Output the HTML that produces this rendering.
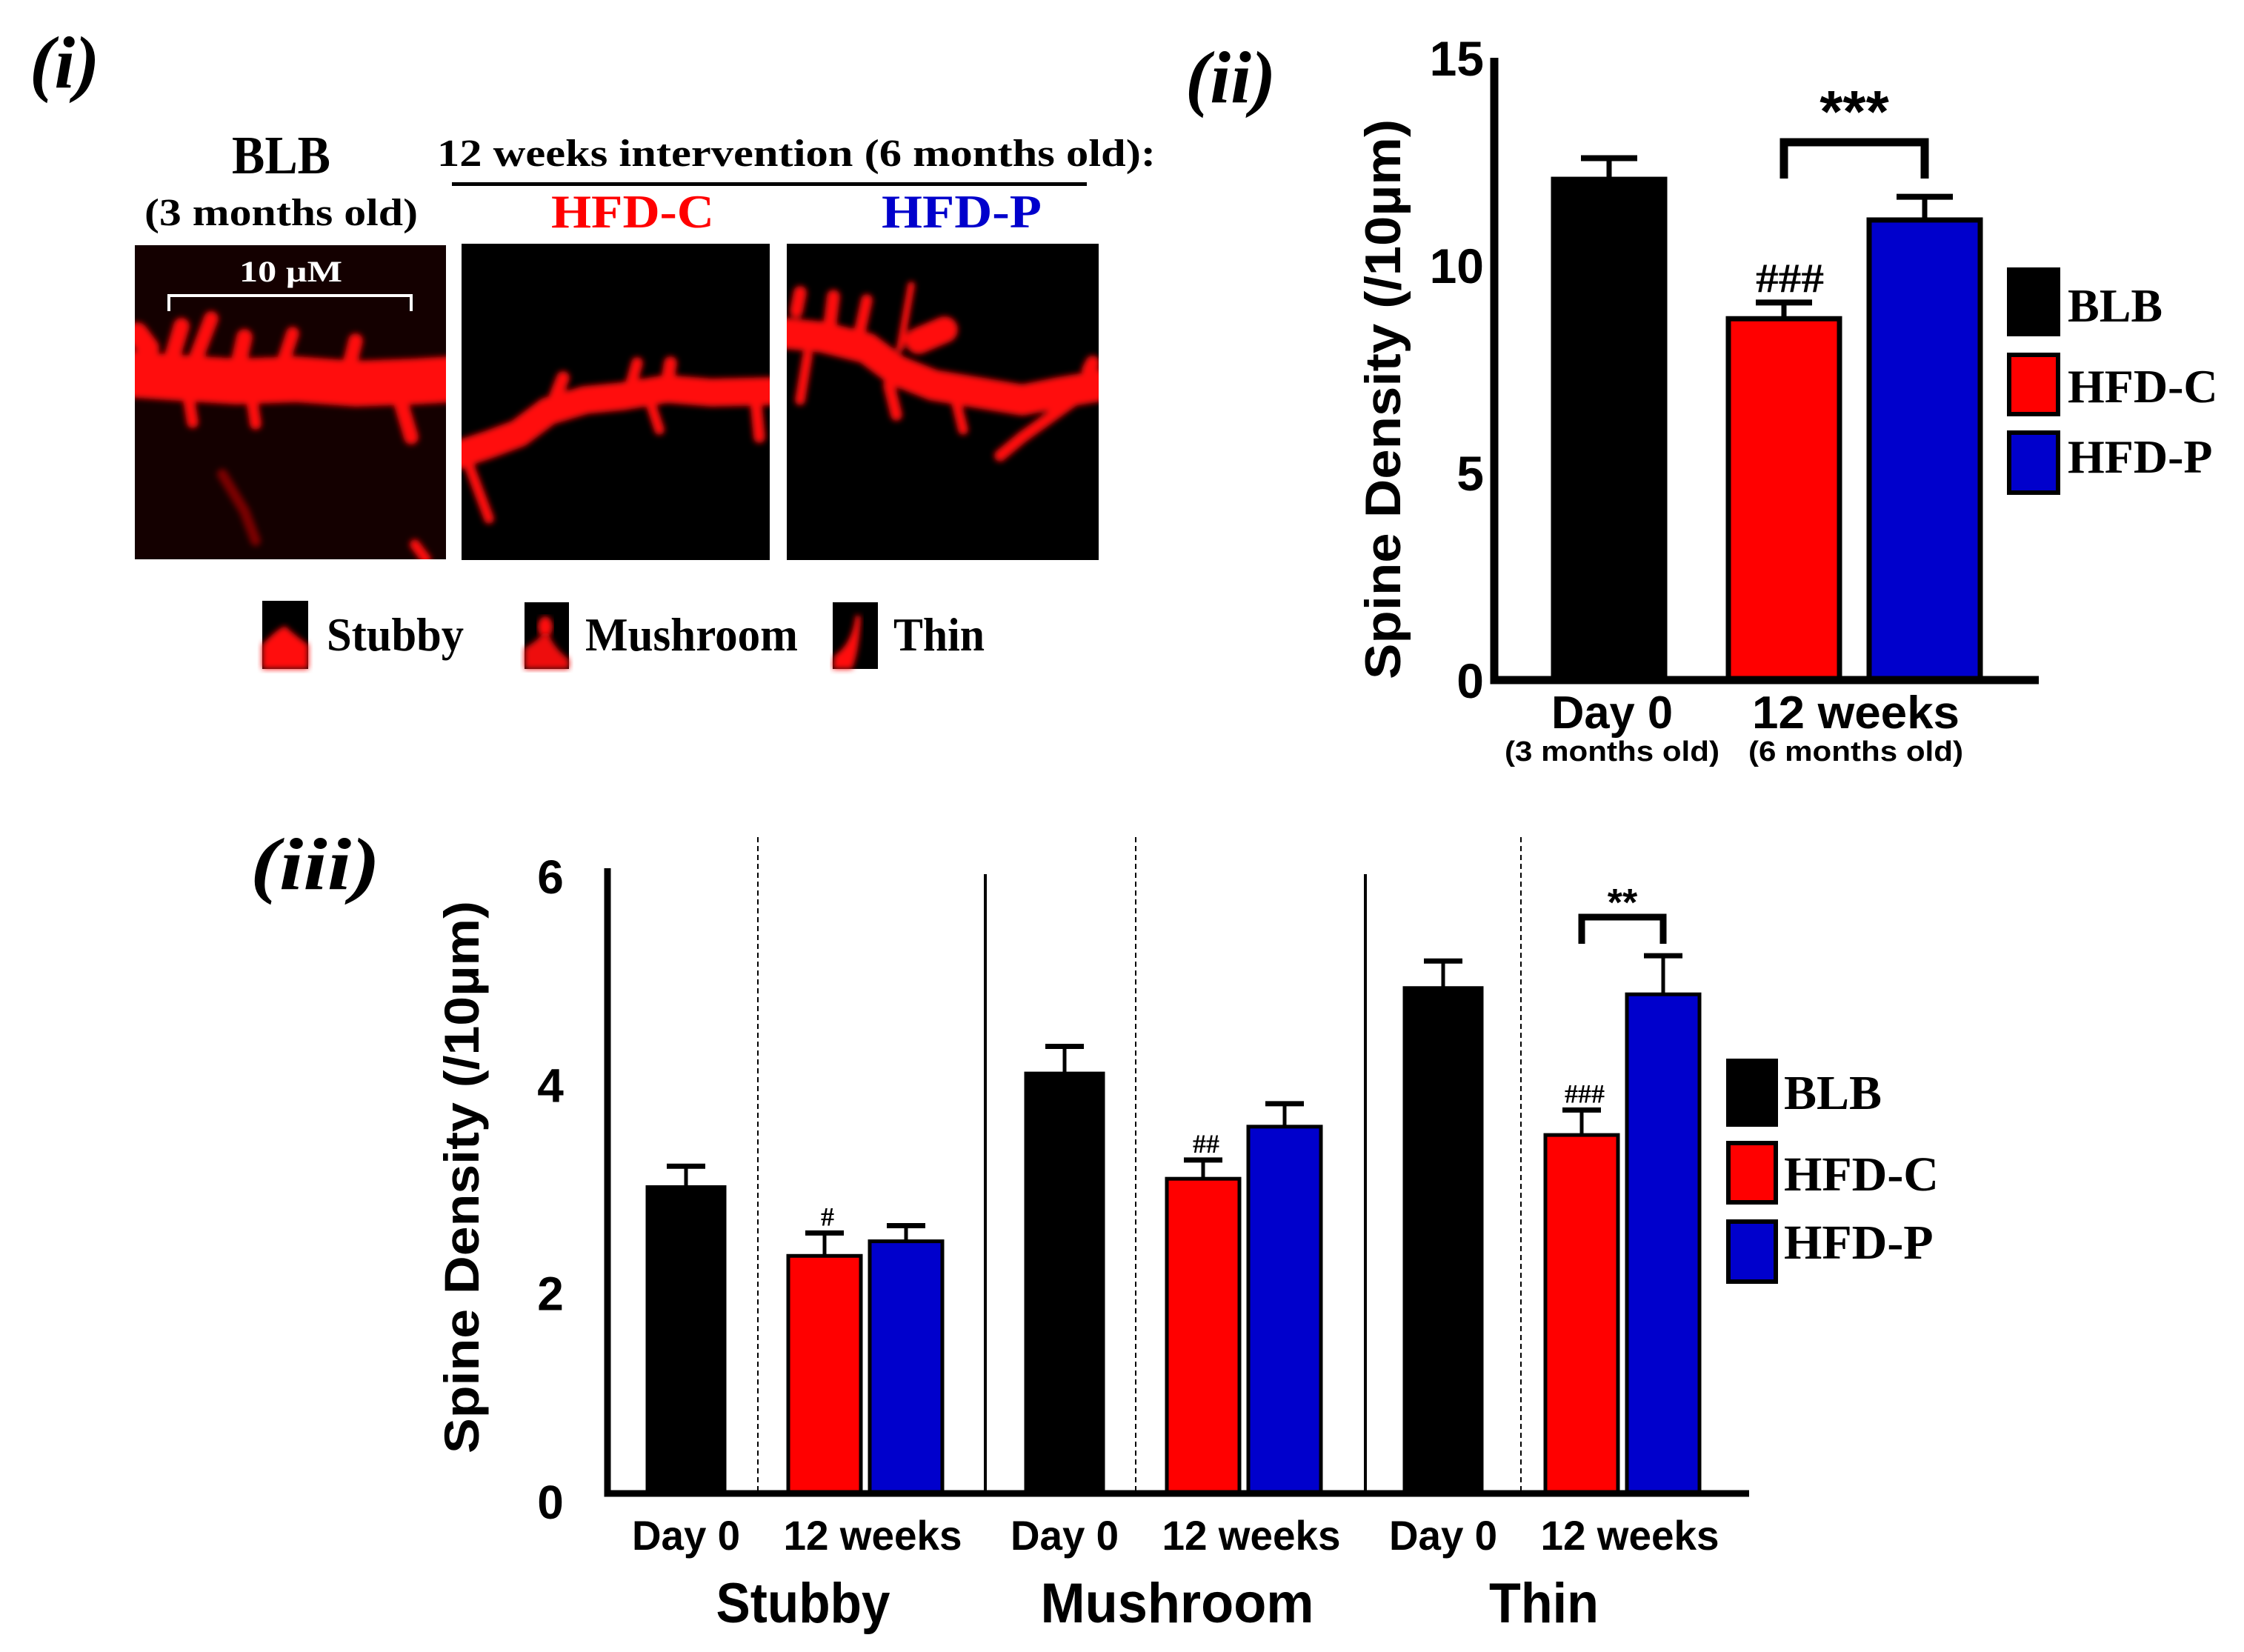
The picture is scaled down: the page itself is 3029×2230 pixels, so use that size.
<!DOCTYPE html>
<html><head><meta charset="utf-8"><title>Spine density figure</title>
<style>
html,body{margin:0;padding:0;background:#fff;}
svg{display:block;}
.serif{font-family:"Liberation Serif",serif;font-weight:bold;}
.sans{font-family:"Liberation Sans",sans-serif;font-weight:bold;}
</style></head>
<body>
<svg id="fig" xmlns="http://www.w3.org/2000/svg" width="3029" height="2230" viewBox="0 0 3029 2230">
<defs>
<clipPath id="c1"><rect x="182" y="331" width="420" height="424"/></clipPath>
<clipPath id="c2"><rect x="623" y="329" width="416" height="427"/></clipPath>
<clipPath id="c3"><rect x="1062" y="329" width="421" height="427"/></clipPath>
<filter id="blur" x="-10%" y="-10%" width="120%" height="120%"><feGaussianBlur stdDeviation="4"/></filter>
</defs>

<!-- Panel i -->
<g>
<text class="serif" font-style="italic" font-size="100" x="40" y="118">(<tspan>i</tspan>)</text>
<text class="serif" font-size="73" x="313" y="234" textLength="133" lengthAdjust="spacingAndGlyphs">BLB</text>
<text class="serif" font-size="52" x="195" y="304" textLength="369" lengthAdjust="spacingAndGlyphs">(3 months old)</text>
<text class="serif" font-size="52" x="590" y="224" textLength="970" lengthAdjust="spacingAndGlyphs">12 weeks intervention (6 months old):</text>
<rect x="610" y="246" width="857" height="5" fill="#000"/>
<text class="serif" font-size="63" x="744" y="307" fill="#ff0000" textLength="220" lengthAdjust="spacingAndGlyphs">HFD-C</text>
<text class="serif" font-size="63" x="1190" y="307" fill="#0000cc" textLength="216" lengthAdjust="spacingAndGlyphs">HFD-P</text>

<g clip-path="url(#c1)">
<rect x="182" y="331" width="420" height="424" fill="#140000"/>
<g filter="url(#blur)" stroke="#ff0a0a" fill="none" stroke-linecap="round" stroke-linejoin="round">
<polyline points="170,505 240,510 320,515 400,512 480,518 560,515 610,512" stroke-width="62"/>
<polyline points="230,490 245,440" stroke-width="22"/>
<polyline points="260,495 285,430" stroke-width="20"/>
<polyline points="320,500 330,455" stroke-width="22"/>
<polyline points="380,495 395,450" stroke-width="18"/>
<polyline points="470,500 480,460" stroke-width="20"/>
<polyline points="255,540 260,570" stroke-width="16"/>
<polyline points="340,540 345,572" stroke-width="16"/>
<polyline points="540,540 555,590" stroke-width="20"/>
<polyline points="185,450 200,470" stroke-width="30"/>
<polyline points="300,640 330,690 345,730" stroke-width="14" stroke="#7a0000"/>
<polyline points="560,735 575,755" stroke-width="14"/>
</g>
<line x1="226" y1="399" x2="557" y2="399" stroke="#fff" stroke-width="4"/>
<line x1="228" y1="397" x2="228" y2="420" stroke="#fff" stroke-width="4"/>
<line x1="555" y1="397" x2="555" y2="420" stroke="#fff" stroke-width="4"/>
<text class="serif" font-size="40" fill="#fff" x="323" y="380" textLength="139" lengthAdjust="spacingAndGlyphs">10 µM</text>
</g>

<g clip-path="url(#c2)">
<rect x="623" y="329" width="416" height="427" fill="#000"/>
<g filter="url(#blur)" stroke="#ff0a0a" fill="none" stroke-linecap="round" stroke-linejoin="round">
<polyline points="615,615 660,600 700,585 740,555 790,540 840,535 900,525 960,530 1045,528" stroke-width="38"/>
<polyline points="630,620 645,660 660,700" stroke-width="14"/>
<polyline points="750,535 760,510" stroke-width="18"/>
<polyline points="850,525 860,490" stroke-width="16"/>
<polyline points="900,520 905,490" stroke-width="18"/>
<polyline points="880,550 890,580" stroke-width="14"/>
<polyline points="1020,540 1025,590" stroke-width="16"/>
</g>
</g>

<g clip-path="url(#c3)">
<rect x="1062" y="329" width="421" height="427" fill="#000"/>
<g filter="url(#blur)" stroke="#ff0a0a" fill="none" stroke-linecap="round" stroke-linejoin="round">
<polyline points="1060,450 1110,455 1170,470 1210,500 1260,520 1320,530 1380,540 1430,530 1490,520" stroke-width="42"/>
<polyline points="1075,420 1080,395" stroke-width="18"/>
<polyline points="1120,440 1125,400" stroke-width="18"/>
<polyline points="1160,450 1170,405" stroke-width="16"/>
<polyline points="1215,470 1230,385" stroke-width="10"/>
<polyline points="1240,460 1275,445" stroke-width="36"/>
<polyline points="1090,480 1080,540" stroke-width="14"/>
<polyline points="1200,520 1210,560" stroke-width="16"/>
<polyline points="1450,540 1380,590 1350,615" stroke-width="16"/>
<polyline points="1290,540 1300,580" stroke-width="14"/>
<polyline points="1470,500 1475,490" stroke-width="20"/>
</g>
</g>

<g>
<g>
<rect x="354" y="811" width="62" height="92" fill="#000"/>
<path d="M354,903 L354,870 Q375,848 385,845 Q395,855 416,870 L416,903 Z" fill="#ff1010" filter="url(#blur)"/>
</g>
<text class="serif" font-size="63" x="441" y="878" textLength="185" lengthAdjust="spacingAndGlyphs">Stubby</text>
<g>
<rect x="708" y="813" width="60" height="90" fill="#000"/>
<ellipse cx="736" cy="846" rx="10" ry="14" fill="#ff1010" filter="url(#blur)"/>
<path d="M708,903 L708,875 Q725,865 733,855 L740,855 Q748,875 768,890 L768,903 Z" fill="#ee1010" filter="url(#blur)"/>
</g>
<text class="serif" font-size="63" x="790" y="878" textLength="287" lengthAdjust="spacingAndGlyphs">Mushroom</text>
<g>
<rect x="1124" y="813" width="61" height="90" fill="#000"/>
<path d="M1124,903 L1126,885 Q1150,870 1155,830 L1162,832 Q1160,880 1150,903 Z" fill="#ff1010" filter="url(#blur)"/>
</g>
<text class="serif" font-size="63" x="1206" y="878" textLength="123" lengthAdjust="spacingAndGlyphs">Thin</text>
</g>
</g>

<!-- Panel ii -->
<g id="p2">
<text class="serif" font-style="italic" font-size="100" x="1600" y="138">(ii)</text>
<text class="sans" font-size="68" transform="translate(1890,539) rotate(-90)" text-anchor="middle" textLength="756" lengthAdjust="spacingAndGlyphs">Spine Density (/10µm)</text>
<text class="sans" font-size="62" x="2176" y="983" text-anchor="middle" textLength="164" lengthAdjust="spacingAndGlyphs">Day 0</text>
<text class="sans" font-size="62" x="2505" y="983" text-anchor="middle" textLength="280" lengthAdjust="spacingAndGlyphs">12 weeks</text>
<text class="sans" font-size="38" x="2176" y="1027" text-anchor="middle" textLength="290" lengthAdjust="spacingAndGlyphs">(3 months old)</text>
<text class="sans" font-size="38" x="2505" y="1027" text-anchor="middle" textLength="290" lengthAdjust="spacingAndGlyphs">(6 months old)</text>
</g>

<!-- Panel iii -->
<g id="p3">
<text class="serif" font-style="italic" font-size="100" x="338" y="1200" textLength="175" lengthAdjust="spacingAndGlyphs">(iii)</text>
<text class="sans" font-size="66" transform="translate(646,1589) rotate(-90)" text-anchor="middle" textLength="746" lengthAdjust="spacingAndGlyphs">Spine Density (/10µm)</text>
</g>
</svg>

<script>
// ---- Panel ii data ----
const p2Categories = ['Day 0 BLB', '12 weeks HFD-C', '12 weeks HFD-P'];
const p2Values = [12.07, 8.71, 11.09];
const p2Errors = [0.51, 0.39, 0.56];
const p2Ticks = [0, 5, 10, 15];
const p2Sig = ['', '###', ''];

// ---- Panel iii data ----
const p3Groups = ['Stubby', 'Mushroom', 'Thin'];
const p3BLB = [2.94, 4.03, 4.85];
const p3BLBErr = [0.20, 0.26, 0.26];
const p3HFDC = [2.28, 3.02, 3.44];
const p3HFDCErr = [0.22, 0.18, 0.24];
const p3HFDP = [2.42, 3.52, 4.79];
const p3HFDPErr = [0.15, 0.22, 0.37];
const p3Sig = ['#', '##', '###'];
const p3Ticks = [0, 2, 4, 6];
const p3XLabels = ['Day 0', '12 weeks'];

const NS = 'http://www.w3.org/2000/svg';
const colors = ['#000000', '#ff0000', '#0000cc'];
function mk(tag, attrs, parent) {
  const e = document.createElementNS(NS, tag);
  for (const k in attrs) e.setAttribute(k, attrs[k]);
  parent.appendChild(e);
  return e;
}

// ===== Panel ii =====
(function () {
  const g = document.getElementById('p2');
  const y0 = 918, yTop = 78, vMax = 15;
  const y = v => y0 - (v / vMax) * (y0 - yTop);
  const xLeft = i => 2097 + i * 190 + (i > 0 ? 46 : 0);
  const bw = 150;
  p2Ticks.forEach(t => {
    const tx = mk('text', {x: 2003, y: y(t) + 24, 'text-anchor': 'end', 'font-size': 66, class: 'sans'}, g);
    
    
    tx.textContent = t;
  });
  p2Values.forEach((v, i) => {
    const x = xLeft(i);
    const eTop = y(v + p2Errors[i]);
    const el = mk('line', {x1: x + bw / 2, x2: x + bw / 2, y1: y(v), y2: eTop, stroke: '#000', 'stroke-width': 7}, g);
    
    
    const cap = mk('line', {x1: x + bw / 2 - 38, x2: x + bw / 2 + 38, y1: eTop, y2: eTop, stroke: '#000', 'stroke-width': 8}, g);
    
    
    const r = mk('rect', {x: x, y: y(v), width: bw, height: y0 - y(v), fill: colors[i], stroke: '#000', 'stroke-width': 7}, g);
    
    
    if (p2Sig[i]) {
      const s = mk('text', {x: x + bw / 2 + 8, y: eTop - 14, 'text-anchor': 'middle', 'font-size': 56, class: 'serif', textLength: 92, lengthAdjust: 'spacingAndGlyphs'}, g);
      
      
      s.textContent = p2Sig[i];
    }
  });
  const ax = mk('path', {d: 'M2017,' + yTop + ' L2017,' + y0 + ' L2752,' + y0, fill: 'none', stroke: '#000', 'stroke-width': 11}, g);
  
  
  // bracket between HFD-C and HFD-P
  const bx1 = xLeft(1) + bw / 2, bx2 = xLeft(2) + bw / 2;
  const br = mk('path', {d: `M${bx1},241 L${bx1},192 L${bx2},192 L${bx2},241`, fill: 'none', stroke: '#000', 'stroke-width': 11}, g);
  
  
  const st = mk('text', {x: (bx1 + bx2) / 2, y: 178, 'text-anchor': 'middle', 'font-size': 80, class: 'sans'}, g);
  
  
  st.textContent = '***';
  const leg = [['BLB', 364, 451, 434], ['HFD-C', 479, 559, 543], ['HFD-P', 584, 665, 638]];
  leg.forEach((l, i) => {
    const b = mk('rect', {x: 2712, y: l[1], width: 66, height: l[2] - l[1], fill: colors[i], stroke: '#000', 'stroke-width': 6}, g);
    
    
    const t = mk('text', {x: 2791, y: l[3], 'font-size': 64, class: 'serif'}, g);
    
    
    t.textContent = l[0];
  });
})();

// ===== Panel iii =====
(function () {
  const g = document.getElementById('p3');
  const y0 = 2016, yTop = 1172, vMax = 6;
  const y = v => y0 - (v / vMax) * (y0 - yTop);
  const groupX = gi => 874 + gi * 511;
  const offs = [0, 190, 300];
  const widths = [104, 98, 98];
  p3Ticks.forEach(t => {
    const tx = mk('text', {x: 743, y: y(t) + 34, 'text-anchor': 'middle', 'font-size': 64, class: 'sans'}, g);
    
    
    tx.textContent = t;
  });
  // separators
  [1330, 1843].forEach(x => {
    const l = mk('line', {x1: x, x2: x, y1: 1180, y2: y0, stroke: '#000', 'stroke-width': 4}, g);
    
    
  });
  [1023, 1533, 2053].forEach(x => {
    const l = mk('line', {x1: x, x2: x, y1: 1130, y2: y0, stroke: '#000', 'stroke-width': 2, 'stroke-dasharray': '7,5'}, g);
    
    
  });
  const series = [[p3BLB, p3BLBErr], [p3HFDC, p3HFDCErr], [p3HFDP, p3HFDPErr]];
  p3Groups.forEach((grp, gi) => {
    series.forEach((s, k) => {
      const v = s[0][gi], e = s[1][gi];
      const x = groupX(gi) + offs[k], bw = widths[k];
      const eTop = y(v + e);
      const el = mk('line', {x1: x + bw / 2, x2: x + bw / 2, y1: y(v), y2: eTop, stroke: '#000', 'stroke-width': 5}, g);
      
      
      const cap = mk('line', {x1: x + bw / 2 - 26, x2: x + bw / 2 + 26, y1: eTop, y2: eTop, stroke: '#000', 'stroke-width': 7}, g);
      
      
      const r = mk('rect', {x: x, y: y(v), width: bw, height: y0 - y(v), fill: colors[k], stroke: '#000', 'stroke-width': 5}, g);
      
      
      if (k === 1) {
        const h = mk('text', {x: x + bw / 2 + 4, y: eTop - 10, 'text-anchor': 'middle', 'font-size': 36, class: 'serif'}, g);
        
        
        h.textContent = p3Sig[gi];
      }
    });
    const c0 = groupX(gi) + widths[0] / 2;
    const c1 = groupX(gi) + (offs[1] + offs[2] + widths[2]) / 2;
    const t0 = mk('text', {x: c0, y: 2092, 'text-anchor': 'middle', 'font-size': 56, class: 'sans', textLength: 146, lengthAdjust: 'spacingAndGlyphs'}, g);
    
    
    t0.textContent = p3XLabels[0];
    const t1 = mk('text', {x: c1 + 10, y: 2092, 'text-anchor': 'middle', 'font-size': 56, class: 'sans', textLength: 241, lengthAdjust: 'spacingAndGlyphs'}, g);
    
    
    t1.textContent = p3XLabels[1];
  });
  const gl = [[1084, 235], [1589, 369], [2084, 148]];
  p3Groups.forEach((grp, gi) => {
    const t = mk('text', {x: gl[gi][0], y: 2190, 'text-anchor': 'middle', 'font-size': 76, class: 'sans', textLength: gl[gi][1], lengthAdjust: 'spacingAndGlyphs'}, g);
    
    
    t.textContent = grp;
  });
  const ax = mk('path', {d: 'M820,' + yTop + ' L820,' + y0 + ' L2361,' + y0, fill: 'none', stroke: '#000', 'stroke-width': 9}, g);
  
  
  const bx1 = groupX(2) + offs[1] + widths[1] / 2, bx2 = groupX(2) + offs[2] + widths[2] / 2;
  const br = mk('path', {d: `M${bx1},1274 L${bx1},1238 L${bx2},1238 L${bx2},1274`, fill: 'none', stroke: '#000', 'stroke-width': 9}, g);
  
  
  const st = mk('text', {x: (bx1 + bx2) / 2, y: 1236, 'text-anchor': 'middle', 'font-size': 52, class: 'sans'}, g);
  
  
  st.textContent = '**';
  const leg = [['BLB', 1432, 1518, 1497], ['HFD-C', 1543, 1623, 1607], ['HFD-P', 1649, 1730, 1699]];
  leg.forEach((l, i) => {
    const b = mk('rect', {x: 2333, y: l[1], width: 64, height: l[2] - l[1], fill: colors[i], stroke: '#000', 'stroke-width': 6}, g);
    
    
    const t = mk('text', {x: 2408, y: l[3], 'font-size': 66, class: 'serif'}, g);
    
    
    t.textContent = l[0];
  });
})();
</script>
</body></html>
